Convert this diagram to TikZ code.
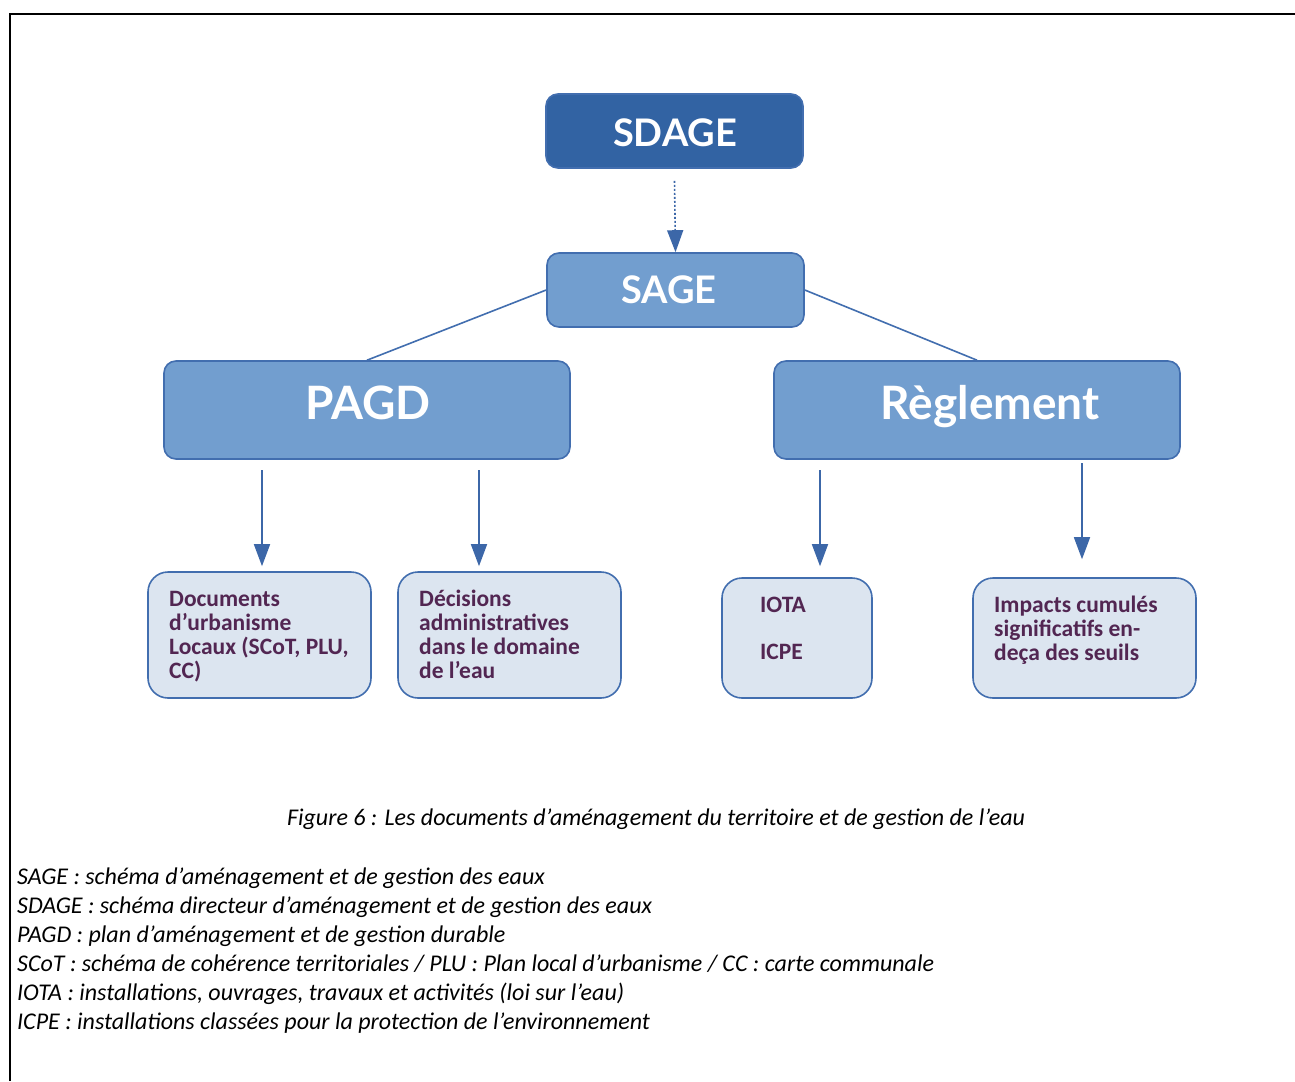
\documentclass[tikz,border=0pt]{standalone}
\usepackage{fontspec}
\setmainfont{Carlito}
\newfontfamily\titlefont{Lato}
\usetikzlibrary{arrows.meta}
\definecolor{sdagefill}{RGB}{50,99,163}
\definecolor{sagefill}{RGB}{114,158,207}
\definecolor{boxborder}{RGB}{66,110,175}
\definecolor{lightfill}{RGB}{220,229,240}
\definecolor{textpurple}{RGB}{82,38,82}
\definecolor{arrowblue}{RGB}{60,103,168}
\begin{document}
\begin{tikzpicture}[x=1pt,y=-1pt,
 bigbox/.style={draw=boxborder, line width=1.6pt, rounded corners=12pt, inner sep=0pt},
 titletext/.style={text=white, font=\titlefont\bfseries\fontsize{38}{40}\selectfont, inner sep=0pt, anchor=base},
 bigtitle/.style={text=white, font=\titlefont\bfseries\fontsize{46}{48}\selectfont, inner sep=0pt, anchor=base},
 smallbox/.style={draw=boxborder, fill=lightfill, line width=1.6pt, rounded corners=20pt, inner sep=0pt},
 boxtext/.style={text=textpurple, font=\bfseries\fontsize{23.5}{24}\selectfont, align=left, inner sep=0pt, anchor=base west},
 arr/.style={draw=arrowblue, line width=1.6pt, -{Triangle[length=22pt,width=16pt]}},
 link/.style={draw=boxborder, line width=1.6pt},
 legend/.style={font=\itshape\fontsize{24}{26}\selectfont, inner sep=0pt, anchor=base west}
]
\useasboundingbox (0,0) rectangle (1295,1081);
\fill[white] (0,0) rectangle (1295,1081);
\draw[line width=2pt] (10,1081) -- (10,14) -- (1295,14);

% top boxes
\node[bigbox, fill=sdagefill, minimum width=257pt, minimum height=74pt] (sdage) at (674.5,131) {};
\node[titletext] (sdaget) at (675,146) {SDAGE};
\node[bigbox, fill=sagefill, minimum width=257pt, minimum height=74pt] (sage) at (675.5,290) {};
\node[titletext] (saget) at (669,303) {SAGE};
\node[bigbox, fill=sagefill, minimum width=406pt, minimum height=98pt] (pagd) at (367,410) {};
\node[bigtitle] (pagdt) at (368,419) {PAGD};
\node[bigbox, fill=sagefill, minimum width=406pt, minimum height=98pt] (regl) at (977,410) {};
\node[bigtitle] (reglt) at (990,419) {Règlement};

% connectors
\draw[arr, dash pattern=on 2pt off 2pt] ([yshift=-12pt]sdage.south) -- (sage.north);
\draw[link] (sage.west) -- (pagd.north);
\draw[link] (sage.east) -- (regl.north);

% small boxes
\node[smallbox, minimum width=223pt, minimum height=126pt] (b1) at (259.5,635) {};
\node[smallbox, minimum width=223pt, minimum height=126pt] (b2) at (509.5,635) {};
\node[smallbox, minimum width=150pt, minimum height=120pt] (b3) at (797,638) {};
\node[smallbox, minimum width=223pt, minimum height=120pt] (b4) at (1084.5,638) {};

% anchor base = baseline of the last line
\node[boxtext] (t1) at (169,678) {Documents\\d’urbanisme\\Locaux (SCoT, PLU,\\CC)};
\node[boxtext] (t2) at (419,678) {Décisions\\administratives\\dans le domaine\\de l’eau};
\node[boxtext] (t3) at (760,659) {IOTA\\[23pt]ICPE};
\node[boxtext] (t4) at (994,660) {Impacts cumulés\\significatifs en-\\deça des seuils};

% arrows
\coordinate (a1) at (262,470);
\coordinate (a2) at (479,470);
\coordinate (a3) at (820,470);
\coordinate (a4) at (1082,463);
\draw[arr, shorten >=5pt] (a1) -- (a1 |- b1.north);
\draw[arr, shorten >=5pt] (a2) -- (a2 |- b2.north);
\draw[arr, shorten >=11pt] (a3) -- (a3 |- b3.north);
\draw[arr, shorten >=18pt] (a4) -- (a4 |- b4.north);

% caption and legend
\node[font=\itshape\fontsize{24}{26}\selectfont, inner sep=0pt, anchor=base] (cap) at (656,825) {Figure 6 : Les documents d’aménagement du territoire et de gestion de l’eau};
\node[legend] (l1) at (17,884) {SAGE : schéma d’aménagement et de gestion des eaux};
\node[legend] (l2) at (17,913) {SDAGE : schéma directeur d’aménagement et de gestion des eaux};
\node[legend] (l3) at (17,942) {PAGD : plan d’aménagement et de gestion durable};
\node[legend] (l4) at (17,971) {SCoT : schéma de cohérence territoriales / PLU : Plan local d’urbanisme / CC : carte communale};
\node[legend] (l5) at (17,1000) {IOTA : installations, ouvrages, travaux et activités (loi sur l’eau)};
\node[legend] (l6) at (17,1029) {ICPE : installations classées pour la protection de l’environnement};
\end{tikzpicture}
\end{document}
